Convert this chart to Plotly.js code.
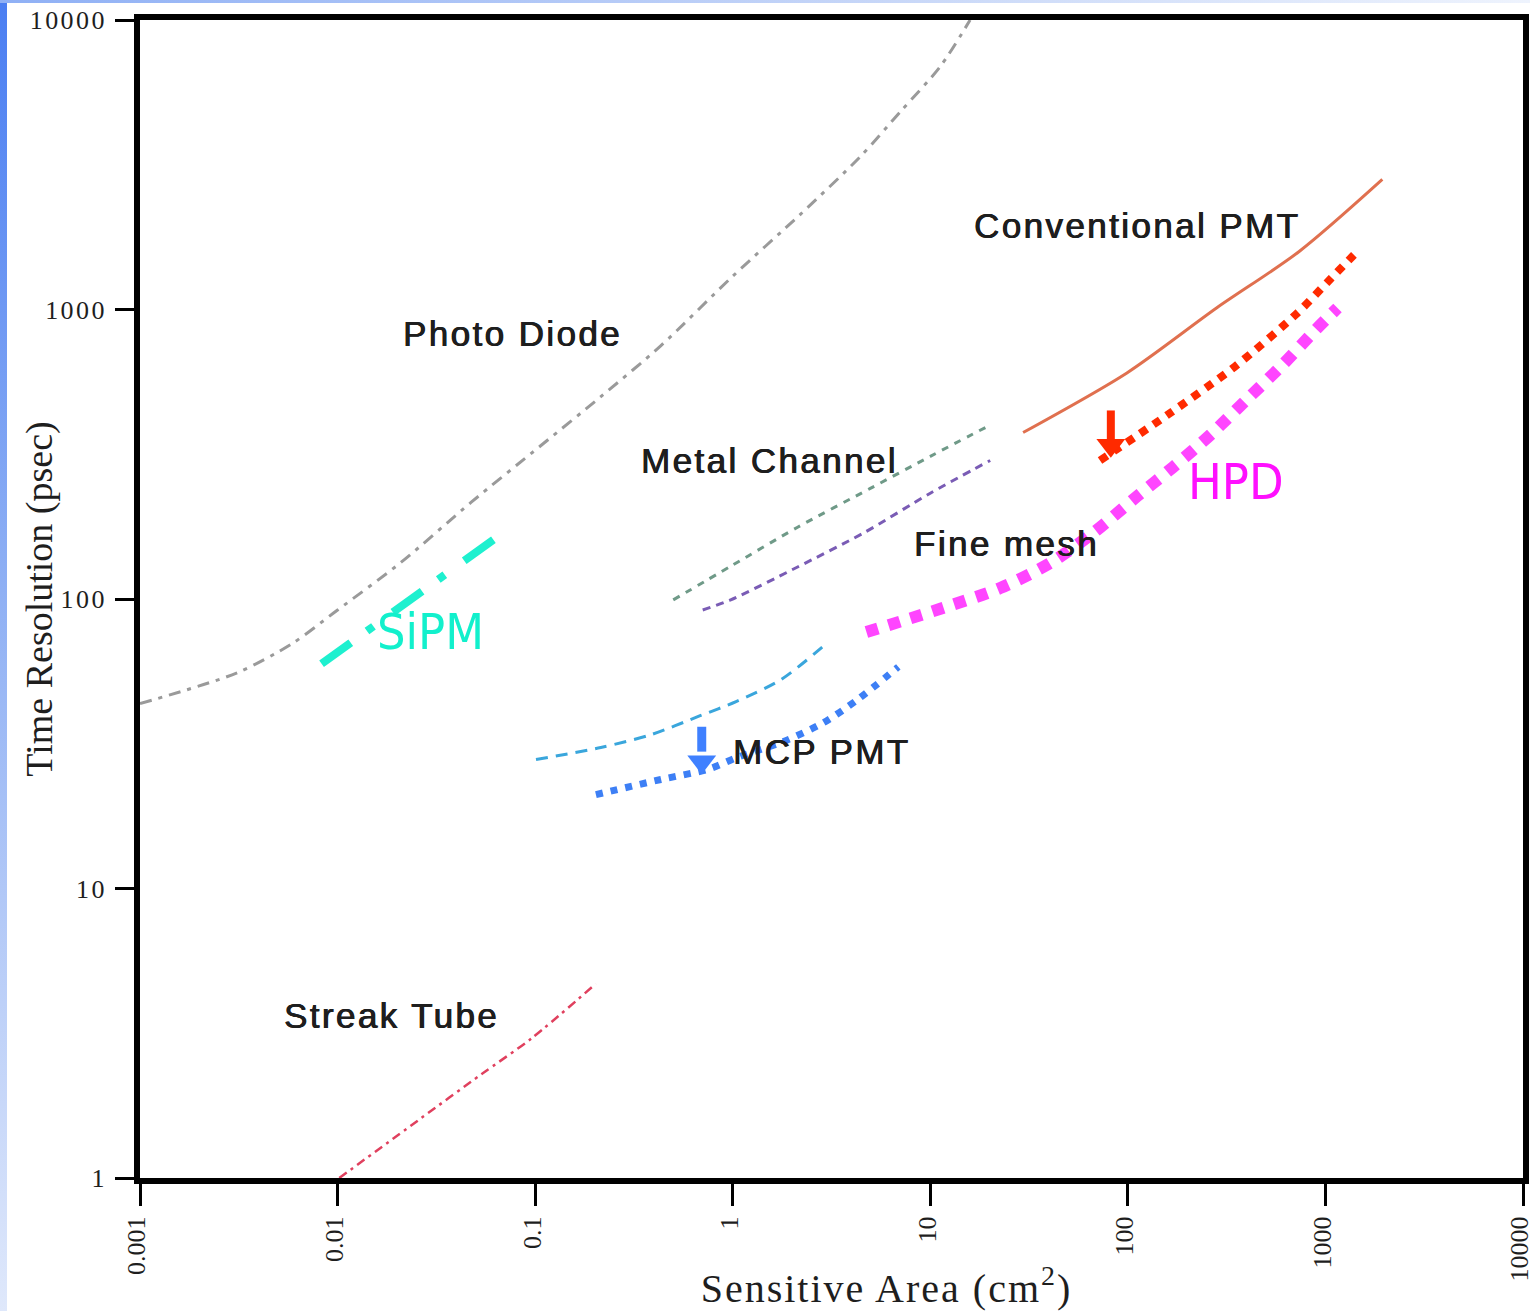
<!DOCTYPE html>
<html><head><meta charset="utf-8">
<script src="https://cdn.plot.ly/plotly-3.0.1.min.js"></script>
<style>
html,body{margin:0;padding:0;background:#fff;}
#wrap{position:relative;width:1530px;height:1311px;overflow:hidden;}
#chart{width:1530px;height:1311px;}
#edgeL{position:absolute;left:0;top:0;width:7px;height:1311px;background:linear-gradient(to bottom,#4a7ef2,#8fb0f4 45%,#dfe8fb);pointer-events:none;}
#edgeT{position:absolute;left:0;top:0;width:1530px;height:3px;background:linear-gradient(to right,#8fb0f5,#c9d8f8 60%,#eef3fd);pointer-events:none;}
</style></head>
<body><div id="wrap"><div id="chart"></div><div id="edgeL"></div><div id="edgeT"></div></div>
<script>
// ---- tick labels ----
const xTickVals = [0.001, 0.01, 0.1, 1, 10, 100, 1000, 10000];
const xTickText = ['0.001', '0.01', '0.1', '1', '10', '100', '1000', '10000'];
const yTickVals = [1, 10, 100, 1000, 10000];
const yTickText = ['1', '10', '100', '1000', '10000'];

// ---- series (sensitive area cm^2 , time resolution ps) ----
const photoDiodeX = [0.001, 0.0031, 0.00586, 0.01, 0.021, 0.0475, 0.107, 0.215, 0.432, 1, 2.2, 4.43, 7.05, 11.2, 15.9];
const photoDiodeY = [43.5, 55.6, 70, 91.6, 134, 216, 339, 500, 749, 1303, 2132, 3377, 4820, 6890, 10000];

const sipmX = [0.0083, 0.0628];
const sipmY = [59.7, 162];

const metalChannelX = [0.5, 1.0, 2.13, 4.97, 10, 19.0];
const metalChannelY = [99.3, 131, 177, 241, 311, 391];

const fineMeshX = [0.705, 0.977, 2.13, 4.59, 10, 20.1];
const fineMeshY = [91.6, 99.3, 129, 169, 232, 301];

const convPmtX = [29.5, 98.9, 281, 739, 1941];
const convPmtY = [376, 604, 1012, 1589, 2813];

const convImprovedX = [72.3, 159, 347, 714, 1072, 1452];
const convImprovedY = [301, 433, 634, 966, 1284, 1589];

const hpdX = [4.75, 11.25, 22.6, 40.4, 68.1, 111, 169, 265, 399, 600, 890, 1151];
const hpdY = [76.9, 92.5, 109.1, 133, 171, 226, 285, 372, 488, 639, 849, 1012];

const mcpPmtX = [0.101, 0.215, 0.386, 0.689, 1.04, 1.75, 3.05];
const mcpPmtY = [27.9, 30.7, 34.0, 39.6, 44.2, 52.6, 71.1];

const mcpImprovedX = [0.203, 0.433, 0.748, 1.06, 1.81, 2.88, 4.28, 6.89];
const mcpImprovedY = [21.1, 23.8, 25.8, 28.4, 32.2, 37.4, 44.9, 58.3];

const streakTubeX = [0.0102, 0.0265, 0.0533, 0.0955, 0.203];
const streakTubeY = [1, 1.61, 2.28, 3.03, 4.69];

// improvement arrows: shaft (tail -> shaft end) and head position
const redArrowX = [82.0, 82.0];
const redArrowY = [448, 352];
const redArrowHeadX = [82.0];
const redArrowHeadY = [340];
const blueArrowX = [0.697, 0.697];
const blueArrowY = [36.2, 29.7];
const blueArrowHeadX = [0.697];
const blueArrowHeadY = [27.4];

function line(x, y, color, width, dash, name, shape) {
  return {x: x, y: y, type: 'scatter', mode: 'lines', name: name, hoverinfo: 'skip',
          line: {color: color, width: width, dash: dash, shape: shape || 'spline', smoothing: 0.8}};
}
function head(x, y, color, name) {
  return {x: x, y: y, type: 'scatter', mode: 'markers', name: name, hoverinfo: 'skip',
          marker: {symbol: 'triangle-down', size: 25, color: color, line: {width: 0}}};
}

const traces = [
  line(photoDiodeX, photoDiodeY, '#9a9a9a', 3, '12px,7px,4px,7px', 'Photo Diode'),
  line(streakTubeX, streakTubeY, '#e0405e', 2.5, '9px,5px,3px,5px', 'Streak Tube'),
  line(metalChannelX, metalChannelY, '#6f9a88', 3, '7px,7px', 'Metal Channel'),
  line(fineMeshX, fineMeshY, '#7a5cb5', 3, '8px,6px', 'Fine mesh'),
  line(convPmtX, convPmtY, '#e0704f', 3, 'solid', 'Conventional PMT'),
  line(mcpPmtX, mcpPmtY, '#3aa6dc', 3, '12px,8px', 'MCP PMT'),
  line(sipmX, sipmY, '#1ef0cf', 8, '36px,20px,8px,24px', 'SiPM', 'linear'),
  line(convImprovedX, convImprovedY, '#ff2a00', 8, '8px,8px', 'Conventional PMT (improved)'),
  line(hpdX, hpdY, '#ff45ff', 12, '12px,11px', 'HPD'),
  line(mcpImprovedX, mcpImprovedY, '#3d7ff5', 7, '7px,8px', 'MCP PMT (improved)'),
  line(redArrowX, redArrowY, '#ff2a00', 8, 'solid', 'arrow', 'linear'),
  head(redArrowHeadX, redArrowHeadY, '#ff2a00', 'arrow head'),
  line(blueArrowX, blueArrowY, '#3f80ff', 9, 'solid', 'arrow', 'linear'),
  head(blueArrowHeadX, blueArrowHeadY, '#3f80ff', 'arrow head'),
  // tick-label axis carrier (no marks)
  {x: [], y: [], type: 'scatter', mode: 'lines', xaxis: 'x', yaxis: 'y2', hoverinfo: 'skip', showlegend: false}
];

const L = Math.log10;
const dark = '#1e1e1e';
const sans = 'Liberation Sans, Arial, sans-serif';
const cond = 'DejaVu Sans Condensed, Liberation Sans Narrow, Liberation Sans, sans-serif';
function label(text, x, y, size, color, family, spacing) {
  const font = {family: family, size: size, color: color};
  if (spacing) font.shadow = '0.6px 0 0 ' + color + ', -0.3px 0 0 ' + color;
  return {x: L(x), y: L(y), xref: 'x', yref: 'y', xanchor: 'left', yanchor: 'middle', showarrow: false,
          text: spacing ? '<span style="letter-spacing:' + spacing + 'px">' + text + '</span>' : text,
          font: font};
}
const spaced = t => '<span style="letter-spacing:2.4px">' + t + '</span>';

const pad = '\u200B' + '\u00A0'.repeat(11);
const layout = {
  width: 1530, height: 1311,
  margin: {l: 140, r: 7, t: 20, b: 133},
  paper_bgcolor: '#ffffff', plot_bgcolor: '#ffffff',
  showlegend: false,
  font: {family: 'Liberation Serif, Times New Roman, serif', color: dark},
  xaxis: {type: 'log', range: [-3, 4], autorange: false,
          tickmode: 'array', tickvals: xTickVals, ticktext: xTickText, tickangle: -90,
          ticks: 'outside', ticklen: 22, tickwidth: 3, tickcolor: '#000',
          ticklabeloverflow: 'allow', ticklabelshift: -3,
          showline: true, linewidth: 6, linecolor: '#000', mirror: true,
          showgrid: false, zeroline: false,
          tickfont: {family: 'Liberation Serif, serif', size: 26, color: dark},
          title: {text: pad + '<span style="letter-spacing:2px">Sensitive Area (cm<sup>2</sup>)</span>', standoff: 0,
                  font: {family: 'Liberation Serif, serif', size: 40, color: dark}}},
  yaxis: {type: 'log', range: [0, 4], autorange: false,
          showline: true, linewidth: 6, linecolor: '#000', mirror: true,
          ticks: '', showticklabels: false, showgrid: false, zeroline: false,
          title: {text: 'Time Resolution (psec)', standoff: 72,
                  font: {family: 'Liberation Serif, serif', size: 38, color: dark}}},
  yaxis2: {type: 'log', range: [0, 4], autorange: false, overlaying: 'y', side: 'left', anchor: 'x',
           showline: false, showgrid: false, zeroline: false,
           tickmode: 'array', tickvals: yTickVals, ticktext: yTickText.map(spaced),
           ticks: 'outside', ticklen: 24, tickwidth: 3, tickcolor: '#000', ticklabelstandoff: 3,
           tickfont: {family: 'Liberation Serif, serif', size: 26, color: dark}},
  annotations: [
    label('Photo Diode', 0.021, 824, 35, dark, sans, 2.4),
    label('Metal Channel', 0.335, 301, 35, dark, sans, 2.4),
    label('Conventional PMT', 16.3, 1954, 35, dark, sans, 2.4),
    label('Fine mesh', 8.11, 155, 35, dark, sans, 2.4),
    label('MCP PMT', 0.977, 29.7, 35, dark, sans, 2.4),
    label('Streak Tube', 0.00521, 3.64, 35, dark, sans, 2.4),
    label('SiPM', 0.01538, 76.9, 50, '#12f0cc', cond),
    label('HPD', 196, 253, 50, '#ff10ff', cond)
  ]
};

Plotly.newPlot('chart', traces, layout, {displayModeBar: false, staticPlot: true});
</script>
</body></html>
